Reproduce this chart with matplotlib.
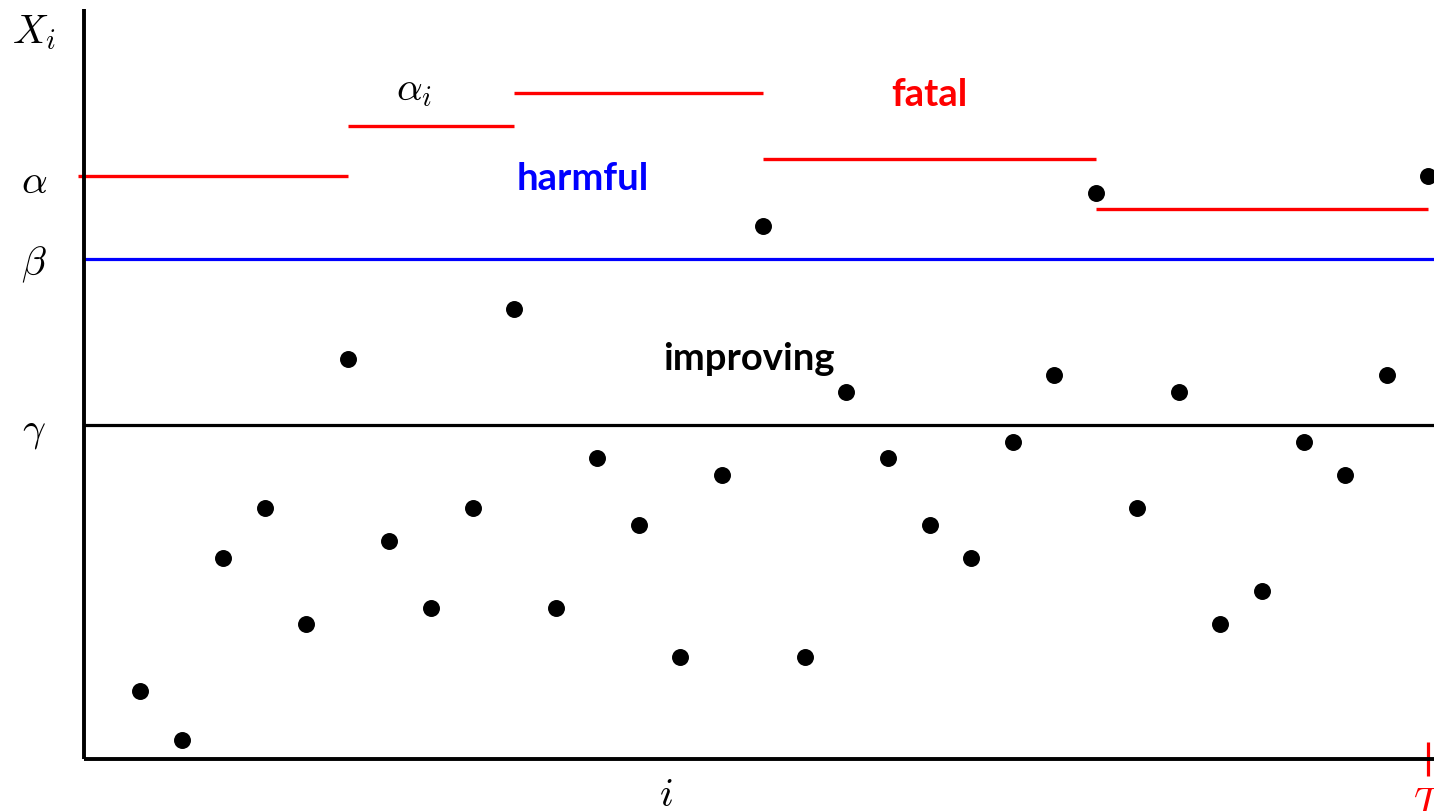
import numpy as np
import matplotlib.pyplot as plt
import matplotlib.transforms as mtransforms

plt.rcParams['mathtext.fontset'] = 'cm'

# === Data ===
idx = np.arange(1, 33)
x_vals = [4, 1, 12, 15, 8, 24, 13, 9, 15, 27, 9, 18, 14, 6, 17, 32,
          6, 22, 18, 14, 12, 19, 23, 34, 15, 22, 8, 10, 19, 17, 23, 35]

alpha, beta, gamma = 35, 30, 20
alpha_i_start = [-0.5, 6, 10, 16, 24]
alpha_i_end = [6, 10, 16, 24, 32]
alpha_i_level = [35, 38, 40, 36, 33]
T = 32

# === Figure ===
fig = plt.figure(figsize=(14.34, 8.12), dpi=100)
ax = fig.add_axes([84 / 1434, 52 / 812, 1 - 84 / 1434, 750 / 812])
ax.set_xlim(-0.35, 32.14)
ax.set_ylim(-0.12, 45.06)

for s in ['top', 'right']:
    ax.spines[s].set_visible(False)
for s in ['left', 'bottom']:
    ax.spines[s].set_linewidth(2.8)
    ax.spines[s].set_capstyle('butt')

# thresholds
ax.axhline(beta, color='blue', lw=2.3, zorder=2)
ax.axhline(gamma, color='black', lw=2.3, zorder=2)
ax.hlines(alpha_i_level, alpha_i_start, alpha_i_end, colors='red', lw=2.4,
          clip_on=False, zorder=2)

# observations
ax.scatter(idx, x_vals, s=125, color='black', zorder=3, clip_on=False)

# === Labels ===
ax.set_yticks([gamma, beta, alpha, 44])
ax.set_yticklabels([r'$\gamma$', r'$\beta$', r'$\alpha$', r'$X_i$'],
                   fontsize=29, ha='center')
ax.tick_params(axis='y', length=0, pad=36)

ax.set_xticks([T])
ax.set_xticklabels([r'$T$'], fontsize=29, color='red')
ax.tick_params(axis='x', direction='inout', length=24, width=2.3,
               color='red', pad=6)

trans = mtransforms.blended_transform_factory(ax.transData, fig.transFigure)
ax.text(13.66, 1 - 795 / 812, r'$i$', fontsize=29, ha='center', va='center',
        transform=trans)

ax.text(7.6, 39.6, r'$\alpha_i$', fontsize=29, ha='center', va='baseline')
ax.text(20.0, 39.3, 'fatal', fontsize=27.5, fontweight='bold', color='red',
        family='Lato', ha='center', va='baseline')
ax.text(11.66, 34.2, 'harmful', fontsize=27.5, fontweight='bold', color='blue',
        family='Lato', ha='center', va='baseline')
ax.text(15.66, 23.4, 'improving', fontsize=27.5, fontweight='bold',
        color='black', family='Lato', ha='center', va='baseline')

fig.savefig('out.png', dpi=100)
